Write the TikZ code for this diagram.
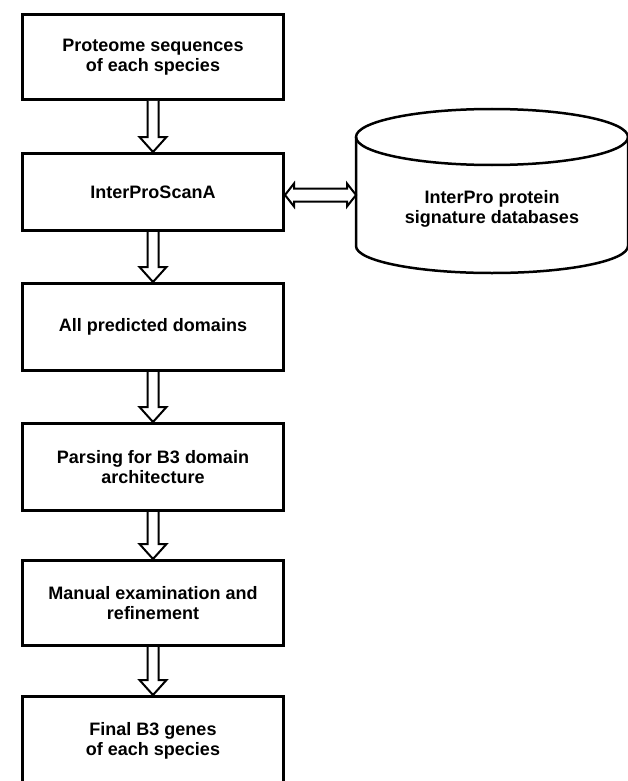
\documentclass[tikz,border=0pt]{standalone}
\usepackage{fontspec}
\setmainfont{Liberation Sans}
\usetikzlibrary{calc}
\tikzset{
  stepbox/.style={draw=black, line width=3pt, fill=white, minimum width=261pt, inner sep=0pt,
    align=center, font=\fontsize{18pt}{19.5pt}\selectfont\bfseries},
  barrow/.style={draw=black, line width=2pt, fill=white, line join=miter},
  cyl/.style={draw=black, line width=2.5pt},
  txt/.style={align=center, font=\fontsize{18pt}{19.5pt}\selectfont\bfseries},
}
\begin{document}
\begin{tikzpicture}[x=1pt,y=1pt]
\useasboundingbox (0,0) rectangle (627,-781);
% boxes
\node[stepbox, minimum height=85pt] (b1) at (153,-57) {Proteome sequences\\of each species};
\node[stepbox, minimum height=77pt] (b2) at (153,-192) {InterProScanA};
\node[stepbox, minimum height=87pt] (b3) at (153,-327) {All predicted domains};
\node[stepbox, minimum height=87pt] (b4) at (153,-467) {Parsing for B3 domain\\architecture};
\node[stepbox, minimum height=85pt] (b5) at (153,-603) {Manual examination and\\refinement};
\node[stepbox, minimum height=89pt] (b6) at (153,-741) {Final B3 genes\\of each species};
% database cylinder
\node[minimum width=272pt, minimum height=110pt, inner sep=0pt, outer sep=0pt] (db) at (492,-192) {};
\draw[cyl, fill=white] (db.west |- 0,-137) -- (db.west |- 0,-246)
  arc[start angle=180, end angle=360, x radius=136, y radius=27]
  -- (db.east |- 0,-137);
\draw[cyl] (492,-137) ellipse [x radius=136, y radius=28];
\node[txt] at ($(db.center)+(0,-17)$) {InterPro protein\\signature databases};
% block arrows between boxes
\foreach \a/\b in {b1/b2, b2/b3, b3/b4, b4/b5, b5/b6}{
  \draw[barrow] ($(\a.south)+(-5.5,0)$) -- ($(\b.north)+(-5.5,15)$) -- ($(\b.north)+(-13.5,15)$)
    -- (\b.north) -- ($(\b.north)+(13.5,15)$) -- ($(\b.north)+(5.5,15)$) -- ($(\a.south)+(5.5,0)$);
}
% double block arrow
\coordinate (L) at ($(b2.east)+(0,-3)$);
\coordinate (R) at (db.west |- L);
\draw[barrow] (L) -- ($(L)+(9,11.5)$) -- ($(L)+(9,6.5)$) -- ($(R)+(-9,6.5)$) -- ($(R)+(-9,11.5)$)
  -- (R) -- ($(R)+(-9,-11.5)$) -- ($(R)+(-9,-6.5)$) -- ($(L)+(9,-6.5)$) -- ($(L)+(9,-11.5)$) -- cycle;
\end{tikzpicture}
\end{document}
